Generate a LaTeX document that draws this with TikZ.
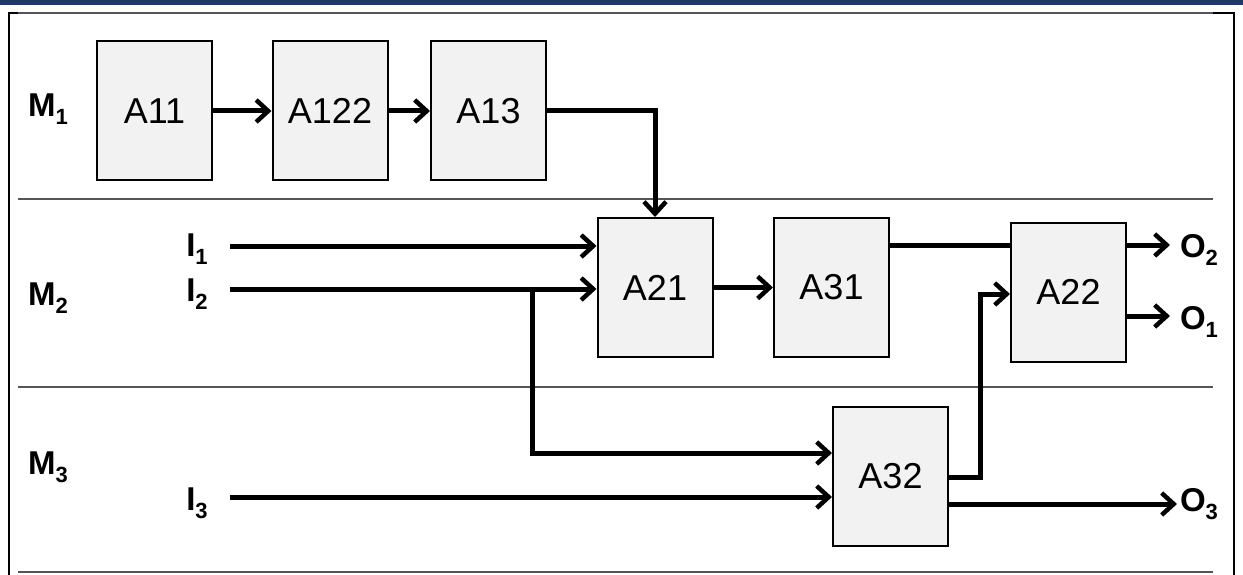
\documentclass[tikz,border=0pt]{standalone}
\usepackage{fontspec}
\setmainfont{Liberation Sans}
\usetikzlibrary{arrows.meta}
\definecolor{navy}{HTML}{1F3864}
\definecolor{boxfill}{HTML}{F2F2F2}
\definecolor{rule}{HTML}{555555}
\newcommand{\lab}[2]{\textbf{#1\raisebox{-0.45ex}{\fontsize{22}{22}\selectfont #2}}}
\tikzset{
  blk/.style={draw=black, line width=2pt, fill=boxfill, minimum width=115pt, minimum height=139pt, inner sep=0pt, font=\fontsize{36}{36}\selectfont},
  lbl/.style={inner sep=0pt, font=\fontsize{33}{33}\selectfont},
  wire/.style={line width=5pt, line join=miter},
  arr/.style={wire, -{Straight Barb[length=12pt,width=22pt,line width=4.5pt]}},
  sep/.style={line width=1.5pt, draw=rule},
  frame/.style={line width=1.8pt, draw=black}
}
\begin{document}
\begin{tikzpicture}[x=1pt,y=-1pt]
\useasboundingbox (0,0) rectangle (1243,575);
% top bar and frame
\fill[navy] (0,0) rectangle (1243,5);
\draw[frame] (9,575) -- (9,13) -- (1234,13) -- (1234,575);
\draw[sep, line width=2.5pt] (18,13) -- (1213,13);
\draw[sep] (18,199) -- (1213,199);
\draw[sep] (18,387) -- (1213,387);
\draw[sep, line width=2.5pt] (18,572) -- (1213,572);
% blocks
\node[blk] (A11) at (154.5,111) {A11};
\node[blk] (A122) at (330,111) {A122};
\node[blk] (A13) at (488.5,111) {A13};
\node[blk] (A21) at (655,287.5) {A21};
\node[blk] (A31) at (831.5,287.5) {A31};
\node[blk] (A22) at (1068.5,292) {A22};
\node[blk] (A32) at (890.5,476) {A32};
% labels
\node[lbl] (M1) at (48,109) {\lab{M}{1}};
\node[lbl] (M2) at (48,298) {\lab{M}{2}};
\node[lbl] (M3) at (48,467) {\lab{M}{3}};
\node[lbl] (I1) at (197,249) {\lab{I}{1}};
\node[lbl] (I2) at (197,294) {\lab{I}{2}};
\node[lbl] (I3) at (197,503) {\lab{I}{3}};
\node[lbl] (O2) at (1199,250) {\lab{O}{2}};
\node[lbl] (O1) at (1199,322) {\lab{O}{1}};
\node[lbl] (O3) at (1199,504) {\lab{O}{3}};
% coordinates
\coordinate (i1) at (230,246);
\coordinate (i2) at (230,289);
\coordinate (i3) at (230,497);
\coordinate (br) at (532,289);
\coordinate (o2) at (1170,245);
\coordinate (o1) at (1170,316);
\coordinate (o3) at (1177,504);
\coordinate (up) at (980,477);
% connectors
\draw[arr] (A11) -- (A122);
\draw[arr] (A122) -- (A13);
\draw[arr] (A13.east) -| (A21.north);
\draw[arr] (i1) -- (A21.west |- i1);
\draw[arr] (i2) -- (A21.west |- i2);
\draw[arr] (br) |- (A32.west |- 0,453);
\draw[arr] (i3) -- (A32.west |- i3);
\draw[arr] (A21) -- (A31);
\draw[wire] (A31.east |- o2) -- (A22.west |- o2);
\draw[arr] (A32.east |- up) -- (up) |- (A22.west |- 0,294);
\draw[arr] (A32.east |- o3) -- (o3);
\draw[arr] (A22.east |- o2) -- (o2);
\draw[arr] (A22.east |- o1) -- (o1);
\end{tikzpicture}
\end{document}
